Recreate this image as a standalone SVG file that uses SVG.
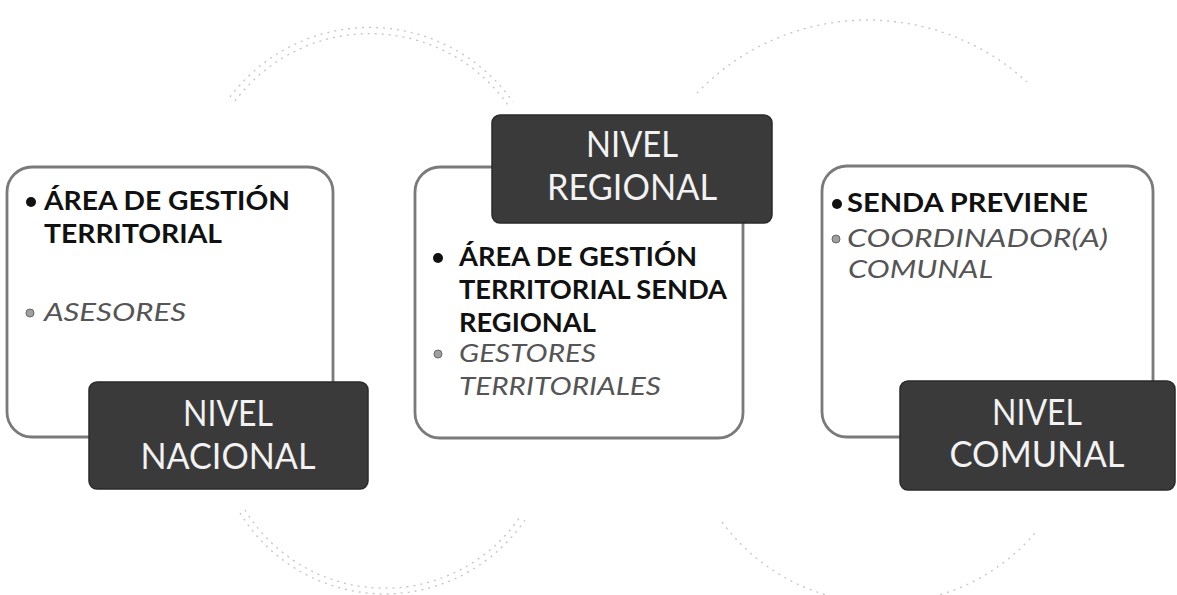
<svg xmlns="http://www.w3.org/2000/svg" width="1177" height="595" viewBox="0 0 1177 595">
<style>
.card{fill:#ffffff;stroke:#7a7a7a;stroke-width:2.8}
.dark{fill:#3a3a3a;stroke:#2a2a2a;stroke-width:1.5}
.b{font-family:Lato,"Open Sans","Liberation Sans",sans-serif;font-weight:bold;font-size:27px;fill:#111}
.i{font-family:Lato,"Open Sans","Liberation Sans",sans-serif;font-style:italic;font-size:26px;fill:#555}
.t{font-family:Lato,"Open Sans","Liberation Sans",sans-serif;font-size:37px;fill:#f2f2f2;text-anchor:middle}
.dot{fill:#111}
.gdot{fill:#a0a0a0;stroke:#666;stroke-width:1}
.arc{fill:none;stroke:#c4c4c4;stroke-width:1.3;stroke-dasharray:2 5}
</style>
<rect width="1177" height="595" fill="#ffffff"/>
<g id="connectors">
<path class="arc" d="M230,97 A175,175 0 0 1 513,102"/>
<path class="arc" d="M235,101 A169,169 0 0 1 508,105"/>
<path class="arc" d="M240,513 A170,170 0 0 0 525,520"/>
<path class="arc" d="M245,510 A164,164 0 0 0 520,517"/>
<path class="arc" d="M697,93 A236,236 0 0 1 1027,82"/>
<path class="arc" d="M722,522 A200,200 0 0 0 1035,533"/>
</g>
<g id="nacional">
<rect class="card" x="7" y="167" width="326" height="270" rx="25"/>
<circle class="dot" cx="31" cy="202" r="5"/>
<text class="b" x="44" y="210" textLength="246" lengthAdjust="spacingAndGlyphs">ÁREA DE GESTIÓN</text>
<text class="b" x="44" y="243" textLength="178" lengthAdjust="spacingAndGlyphs">TERRITORIAL</text>
<circle class="gdot" cx="30" cy="313" r="4"/>
<text class="i" x="44" y="321" textLength="142" lengthAdjust="spacingAndGlyphs">ASESORES</text>
<rect class="dark" x="89" y="382" width="279" height="107" rx="8"/>
<text class="t" x="228" y="426" textLength="90" lengthAdjust="spacingAndGlyphs">NIVEL</text>
<text class="t" x="228" y="469" textLength="175" lengthAdjust="spacingAndGlyphs">NACIONAL</text>
</g>
<g id="regional">
<rect class="card" x="415" y="167" width="328" height="271" rx="25"/>
<rect class="dark" x="492" y="115" width="280" height="108" rx="8"/>
<text class="t" x="632" y="157" textLength="92" lengthAdjust="spacingAndGlyphs">NIVEL</text>
<text class="t" x="632" y="200" textLength="170" lengthAdjust="spacingAndGlyphs">REGIONAL</text>
<circle class="dot" cx="438" cy="258" r="5"/>
<text class="b" x="459" y="266" textLength="238" lengthAdjust="spacingAndGlyphs">ÁREA DE GESTIÓN</text>
<text class="b" x="459" y="299" textLength="268" lengthAdjust="spacingAndGlyphs">TERRITORIAL SENDA</text>
<text class="b" x="459" y="332" textLength="137" lengthAdjust="spacingAndGlyphs">REGIONAL</text>
<circle class="gdot" cx="438" cy="354" r="4"/>
<text class="i" x="459" y="362" textLength="137" lengthAdjust="spacingAndGlyphs">GESTORES</text>
<text class="i" x="459" y="395" textLength="202" lengthAdjust="spacingAndGlyphs">TERRITORIALES</text>
</g>
<g id="comunal">
<rect class="card" x="822" y="166" width="331" height="271" rx="25"/>
<circle class="dot" cx="837" cy="204" r="5"/>
<text class="b" x="847" y="212" textLength="241" lengthAdjust="spacingAndGlyphs">SENDA PREVIENE</text>
<circle class="gdot" cx="836" cy="239" r="4"/>
<text class="i" x="847" y="247" textLength="261" lengthAdjust="spacingAndGlyphs">COORDINADOR(A)</text>
<text class="i" x="848" y="278" textLength="145" lengthAdjust="spacingAndGlyphs">COMUNAL</text>
<rect class="dark" x="900" y="381" width="275" height="109" rx="8"/>
<text class="t" x="1037" y="425" textLength="90" lengthAdjust="spacingAndGlyphs">NIVEL</text>
<text class="t" x="1037" y="467" textLength="175" lengthAdjust="spacingAndGlyphs">COMUNAL</text>
</g>
</svg>
